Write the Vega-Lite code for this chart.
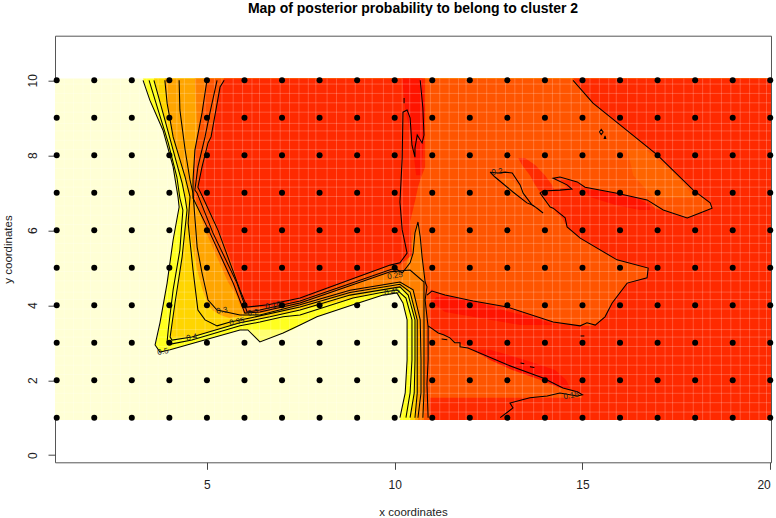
{"$schema":"https://vega.github.io/schema/vega-lite/v6.json","width":716,"height":426.6,"autosize":{"type":"none"},"padding":{"left":55,"top":35.7,"right":5,"bottom":55},"background":"white",
"title":{"text":"Map of posterior probability to belong to cluster  2","font":"Liberation Sans","fontWeight":"bold","fontSize":14,"color":"#000","anchor":"middle","offset":20},
"config":{"view":{"stroke":"#555","strokeWidth":1},"font":"Liberation Sans"},
"encoding":{"x":{"field":"x","type":"quantitative","scale":{"domain":[0.955,20.02],"nice":false,"zero":false},"axis":{"values":[5,10,15,20],"title":"x coordinates","grid":false,"domain":false,"tickColor":"#444","tickSize":7,"labelFont":"Liberation Sans","labelFontSize":12,"labelColor":"#222","labelPadding":10,"titleFont":"Liberation Sans","titleFontSize":11.5,"titleFontWeight":"normal","titleColor":"#222","titlePadding":16}},
"y":{"field":"y","type":"quantitative","scale":{"domain":[-0.19,11.19],"nice":false,"zero":false},"axis":{"values":[0,2,4,6,8,10],"title":"y coordinates","grid":false,"domain":false,"tickColor":"#444","tickSize":7,"labelFont":"Liberation Sans","labelFontSize":12,"labelColor":"#222","labelAngle":-90,"labelAlign":"center","labelBaseline":"bottom","labelPadding":9,"titleFont":"Liberation Sans","titleFontSize":11.5,"titleFontWeight":"normal","titleColor":"#222","titlePadding":13}}},
"datasets":{
"fill":[
{"p":"base","c":"pale","y":10.05,"x":0.955,"x2":20.02},{"p":"base","c":"pale","y":0.94,"x":0.955,"x2":20.02},
{"p":"yw","c":"yellow","y":10.05,"x":3.3,"x2":20.02},{"p":"yw","c":"yellow","y":9.47,"x":3.48,"x2":20.02},{"p":"yw","c":"yellow","y":8.67,"x":3.83,"x2":20.02},{"p":"yw","c":"yellow","y":7.69,"x":4.1,"x2":20.02},{"p":"yw","c":"yellow","y":6.89,"x":4.23,"x2":20.02},{"p":"yw","c":"yellow","y":6.62,"x":4.26,"x2":20.02},{"p":"yw","c":"yellow","y":5.74,"x":4.1,"x2":20.02},{"p":"yw","c":"yellow","y":4.59,"x":3.94,"x2":20.02},{"p":"yw","c":"yellow","y":4.33,"x":3.9,"x2":20.02},{"p":"yw","c":"yellow","y":4.33,"x":3.9,"x2":10.06},{"p":"yw","c":"yellow","y":4.27,"x":3.88,"x2":9.69},{"p":"yw","c":"yellow","y":4.01,"x":3.83,"x2":8.89},{"p":"yw","c":"yellow","y":3.69,"x":3.78,"x2":7.93},{"p":"yw","c":"yellow","y":3.47,"x":3.75,"x2":7.48},{"p":"yw","c":"yellow","y":3.34,"x":3.72,"x2":7.27},{"p":"yw","c":"yellow","y":3.34,"x":3.72,"x2":5.88},{"p":"yw","c":"yellow","y":3.07,"x":3.66,"x2":4.95},{"p":"yw","c":"yellow","y":2.94,"x":3.62,"x2":4.47},{"p":"yw","c":"yellow","y":2.81,"x":3.7,"x2":4.02},{"p":"yw","c":"yellow","y":2.75,"x":3.75,"x2":3.75},
{"p":"yd","c":"lemon","y":3.34,"x":6.09,"x2":7.27},{"p":"yd","c":"lemon","y":3.21,"x":6.23,"x2":6.92},{"p":"yd","c":"lemon","y":3.02,"x":6.41,"x2":6.41},
{"p":"yr","c":"yellow","y":4.33,"x":10.06,"x2":20.02},{"p":"yr","c":"yellow","y":4.06,"x":10.22,"x2":20.02},{"p":"yr","c":"yellow","y":3.61,"x":10.33,"x2":20.02},{"p":"yr","c":"yellow","y":2.54,"x":10.33,"x2":20.02},{"p":"yr","c":"yellow","y":1.66,"x":10.28,"x2":20.02},{"p":"yr","c":"yellow","y":0.94,"x":10.14,"x2":20.02},
{"p":"gw","c":"gold","y":10.05,"x":3.59,"x2":20.02},{"p":"gw","c":"gold","y":9.13,"x":3.83,"x2":20.02},{"p":"gw","c":"gold","y":8.14,"x":4.1,"x2":20.02},{"p":"gw","c":"gold","y":7.26,"x":4.34,"x2":20.02},{"p":"gw","c":"gold","y":6.86,"x":4.42,"x2":20.02},{"p":"gw","c":"gold","y":6.54,"x":4.47,"x2":20.02},{"p":"gw","c":"gold","y":5.29,"x":4.34,"x2":20.02},{"p":"gw","c":"gold","y":4.49,"x":4.23,"x2":20.02},{"p":"gw","c":"gold","y":4.49,"x":4.23,"x2":10.14},{"p":"gw","c":"gold","y":4.14,"x":4.18,"x2":8.68},{"p":"gw","c":"gold","y":3.87,"x":4.13,"x2":7.48},{"p":"gw","c":"gold","y":3.69,"x":4.1,"x2":6.68},{"p":"gw","c":"gold","y":3.53,"x":4.07,"x2":5.88},{"p":"gw","c":"gold","y":3.15,"x":4.02,"x2":4.6},{"p":"gw","c":"gold","y":3.11,"x":4.05,"x2":4.05},
{"p":"gr","c":"gold","y":4.49,"x":10.14,"x2":20.02},{"p":"gr","c":"gold","y":4.27,"x":10.36,"x2":20.02},{"p":"gr","c":"gold","y":3.61,"x":10.54,"x2":20.02},{"p":"gr","c":"gold","y":2.54,"x":10.54,"x2":20.02},{"p":"gr","c":"gold","y":1.66,"x":10.52,"x2":20.02},{"p":"gr","c":"gold","y":0.94,"x":10.41,"x2":20.02},
{"p":"ow","c":"orange","y":10.05,"x":3.88,"x2":20.02},{"p":"ow","c":"orange","y":9.39,"x":3.94,"x2":20.02},{"p":"ow","c":"orange","y":8.49,"x":4.1,"x2":20.02},{"p":"ow","c":"orange","y":7.42,"x":4.42,"x2":20.02},{"p":"ow","c":"orange","y":6.89,"x":4.55,"x2":20.02},{"p":"ow","c":"orange","y":6.19,"x":4.5,"x2":20.02},{"p":"ow","c":"orange","y":4.94,"x":4.74,"x2":20.02},{"p":"ow","c":"orange","y":4.46,"x":4.87,"x2":20.02},{"p":"ow","c":"orange","y":4.46,"x":4.87,"x2":9.74},{"p":"ow","c":"orange","y":4.22,"x":4.95,"x2":8.54},{"p":"ow","c":"orange","y":3.95,"x":5.08,"x2":7.48},{"p":"ow","c":"orange","y":3.87,"x":5.14,"x2":7.1},{"p":"ow","c":"orange","y":3.74,"x":5.35,"x2":6.15},{"p":"ow","c":"orange","y":3.66,"x":5.6,"x2":5.6},
{"p":"or","c":"orange","y":4.56,"x":10.14,"x2":20.02},{"p":"or","c":"orange","y":4.35,"x":10.41,"x2":20.02},{"p":"or","c":"orange","y":3.61,"x":10.6,"x2":20.02},{"p":"or","c":"orange","y":2.54,"x":10.6,"x2":20.02},{"p":"or","c":"orange","y":1.66,"x":10.6,"x2":20.02},{"p":"or","c":"orange","y":0.94,"x":10.54,"x2":20.02},
{"p":"dw","c":"amber","y":10.05,"x":4.68,"x2":20.02},{"p":"dw","c":"amber","y":8.67,"x":4.74,"x2":20.02},{"p":"dw","c":"amber","y":7.07,"x":4.63,"x2":20.02},{"p":"dw","c":"amber","y":6.01,"x":4.95,"x2":20.02},{"p":"dw","c":"amber","y":4.62,"x":5.56,"x2":20.02},{"p":"dw","c":"amber","y":4.62,"x":5.56,"x2":10.14},{"p":"dw","c":"amber","y":4.27,"x":5.78,"x2":8.54},{"p":"dw","c":"amber","y":4.01,"x":5.88,"x2":7.48},{"p":"dw","c":"amber","y":3.79,"x":5.96,"x2":6.41},
{"p":"dr","c":"amber","y":4.62,"x":10.14,"x2":20.02},{"p":"dr","c":"amber","y":4.41,"x":10.49,"x2":20.02},{"p":"dr","c":"amber","y":3.61,"x":10.68,"x2":20.02},{"p":"dr","c":"amber","y":2.54,"x":10.7,"x2":20.02},{"p":"dr","c":"amber","y":1.66,"x":10.7,"x2":20.02},{"p":"dr","c":"amber","y":0.94,"x":10.62,"x2":20.02},
{"p":"rw","c":"vermilion","y":10.05,"x":5,"x2":20.02},{"p":"rw","c":"vermilion","y":9.13,"x":4.87,"x2":20.02},{"p":"rw","c":"vermilion","y":8.14,"x":4.68,"x2":20.02},{"p":"rw","c":"vermilion","y":7.34,"x":4.63,"x2":20.02},{"p":"rw","c":"vermilion","y":6.86,"x":4.66,"x2":20.02},{"p":"rw","c":"vermilion","y":5.93,"x":5.08,"x2":20.02},{"p":"rw","c":"vermilion","y":4.94,"x":5.51,"x2":20.02},{"p":"rw","c":"vermilion","y":4.94,"x":5.51,"x2":10.36},{"p":"rw","c":"vermilion","y":4.89,"x":5.53,"x2":9.88},{"p":"rw","c":"vermilion","y":4.54,"x":5.7,"x2":8.81},{"p":"rw","c":"vermilion","y":4.06,"x":5.88,"x2":7.48},{"p":"rw","c":"vermilion","y":3.79,"x":6.01,"x2":6.41},
{"p":"rr","c":"vermilion","y":4.94,"x":10.78,"x2":20.02},{"p":"rr","c":"vermilion","y":3.42,"x":10.84,"x2":20.02},{"p":"rr","c":"vermilion","y":2.54,"x":10.81,"x2":20.02},{"p":"rr","c":"vermilion","y":1.66,"x":10.81,"x2":20.02},{"p":"rr","c":"vermilion","y":0.94,"x":10.78,"x2":20.02},
{"p":"dp","c":"amber","y":6.14,"x":10.57,"x2":10.65},{"p":"dp","c":"amber","y":5.47,"x":10.41,"x2":10.73},{"p":"dp","c":"amber","y":4.94,"x":10.28,"x2":10.78},{"p":"dp","c":"amber","y":4.62,"x":10.14,"x2":10.81},
{"p":"o1","c":"bright","y":7.39,"x":12.81,"x2":13.07},{"p":"o1","c":"bright","y":7.13,"x":12.94,"x2":13.39},{"p":"o1","c":"bright","y":6.94,"x":13.13,"x2":13.52},
{"p":"o2","c":"bright","y":8.14,"x":16.2,"x2":16.7},{"p":"o2","c":"bright","y":7.47,"x":16.35,"x2":17.5},{"p":"o2","c":"bright","y":6.86,"x":16.9,"x2":18},
{"p":"r1","c":"red","y":10.05,"x":5.46,"x2":10.81},{"p":"r1","c":"red","y":9.82,"x":5.35,"x2":10.81},{"p":"r1","c":"red","y":8.49,"x":5.11,"x2":10.81},{"p":"r1","c":"red","y":7.69,"x":4.87,"x2":10.81},{"p":"r1","c":"red","y":7.34,"x":4.78,"x2":10.68},{"p":"r1","c":"red","y":7.15,"x":4.76,"x2":10.62},{"p":"r1","c":"red","y":6.86,"x":4.9,"x2":10.56},{"p":"r1","c":"red","y":6.22,"x":5.22,"x2":10.41},{"p":"r1","c":"red","y":5.34,"x":5.59,"x2":10.46},{"p":"r1","c":"red","y":5.07,"x":5.68,"x2":10.14},{"p":"r1","c":"red","y":5.07,"x":5.68,"x2":9.88},{"p":"r1","c":"red","y":4.67,"x":5.81,"x2":8.81},{"p":"r1","c":"red","y":4.14,"x":5.99,"x2":7.48},{"p":"r1","c":"red","y":3.95,"x":6.07,"x2":6.63},
{"p":"r2","c":"red","y":10.05,"x":14.75,"x2":20.02},{"p":"r2","c":"red","y":9.39,"x":15.28,"x2":20.02},{"p":"r2","c":"red","y":8.81,"x":16,"x2":20.02},{"p":"r2","c":"red","y":8.01,"x":16.99,"x2":20.02},{"p":"r2","c":"red","y":7.07,"x":17.95,"x2":20.02},{"p":"r2","c":"red","y":6.73,"x":18.4,"x2":20.02},{"p":"r2","c":"red","y":6.59,"x":18.45,"x2":20.02},{"p":"r2","c":"red","y":6.46,"x":18.13,"x2":20.02},{"p":"r2","c":"red","y":6.33,"x":17.79,"x2":20.02},
{"p":"r3","c":"red","y":7.39,"x":14.22,"x2":14.4},{"p":"r3","c":"red","y":7.29,"x":14.46,"x2":14.86},{"p":"r3","c":"red","y":7.15,"x":14.59,"x2":15.07},{"p":"r3","c":"red","y":7.07,"x":14.1,"x2":15.5},{"p":"r3","c":"red","y":6.99,"x":13.87,"x2":15.92},{"p":"r3","c":"red","y":6.81,"x":14.04,"x2":16.72},{"p":"r3","c":"red","y":6.59,"x":14.22,"x2":16.93},{"p":"r3","c":"red","y":6.43,"x":14.35,"x2":17.47},{"p":"r3","c":"red","y":6.33,"x":14.46,"x2":17.79},{"p":"r3","c":"red","y":6.33,"x":14.46,"x2":20.02},{"p":"r3","c":"red","y":6.09,"x":14.59,"x2":20.02},{"p":"r3","c":"red","y":5.79,"x":14.94,"x2":20.02},{"p":"r3","c":"red","y":5.21,"x":15.92,"x2":20.02},{"p":"r3","c":"red","y":4.99,"x":16.75,"x2":20.02},{"p":"r3","c":"red","y":4.73,"x":16.72,"x2":20.02},{"p":"r3","c":"red","y":4.59,"x":16.19,"x2":20.02},{"p":"r3","c":"red","y":4.06,"x":15.79,"x2":20.02},{"p":"r3","c":"red","y":3.69,"x":15.6,"x2":20.02},{"p":"r3","c":"red","y":3.47,"x":15.34,"x2":20.02},{"p":"r3","c":"red","y":3.42,"x":15.1,"x2":20.02},
{"p":"r4","c":"red","y":4.41,"x":10.94,"x2":11},{"p":"r4","c":"red","y":4.27,"x":10.94,"x2":11.34},{"p":"r4","c":"red","y":4.11,"x":10.94,"x2":12.09},{"p":"r4","c":"red","y":3.95,"x":10.94,"x2":13},{"p":"r4","c":"red","y":3.55,"x":10.94,"x2":14.22},{"p":"r4","c":"red","y":3.45,"x":10.94,"x2":14.94},{"p":"r4","c":"red","y":3.45,"x":10.94,"x2":20.02},{"p":"r4","c":"red","y":3.39,"x":10.94,"x2":20.02},{"p":"r4","c":"red","y":3.13,"x":11.47,"x2":20.02},{"p":"r4","c":"red","y":2.86,"x":11.95,"x2":20.02},{"p":"r4","c":"red","y":2.41,"x":13,"x2":20.02},{"p":"r4","c":"red","y":2.06,"x":13.95,"x2":20.02},{"p":"r4","c":"red","y":1.79,"x":14.48,"x2":20.02},{"p":"r4","c":"red","y":1.61,"x":14.99,"x2":20.02},{"p":"r4","c":"red","y":1.53,"x":14.99,"x2":20.02},{"p":"r4","c":"red","y":1.53,"x":10.94,"x2":20.02},{"p":"r4","c":"red","y":0.94,"x":10.94,"x2":20.02},
{"p":"r5","c":"red","y":7.93,"x":13.29,"x2":13.47},{"p":"r5","c":"red","y":7.74,"x":13.39,"x2":13.74},{"p":"r5","c":"red","y":7.47,"x":13.6,"x2":14},{"p":"r5","c":"red","y":7.21,"x":13.74,"x2":14.19},{"p":"r5","c":"red","y":7.02,"x":13.87,"x2":14.27},
{"p":"d1","c":"deep","y":10.05,"x":10.2,"x2":10.73},{"p":"d1","c":"deep","y":9.21,"x":10.28,"x2":10.81},{"p":"d1","c":"deep","y":8.41,"x":10.46,"x2":10.78},{"p":"d1","c":"deep","y":7.47,"x":10.57,"x2":10.7},
{"p":"d2","c":"deep","y":4.22,"x":11.1,"x2":11.47},{"p":"d2","c":"deep","y":4.06,"x":11.02,"x2":12.27},{"p":"d2","c":"deep","y":3.82,"x":11.34,"x2":13.07},{"p":"d2","c":"deep","y":3.66,"x":12.27,"x2":13.74},{"p":"d2","c":"deep","y":3.47,"x":13.34,"x2":14.27},
{"p":"d3","c":"deep","y":2.81,"x":12.06,"x2":12.54},{"p":"d3","c":"deep","y":2.54,"x":12.54,"x2":13.47},{"p":"d3","c":"deep","y":2.27,"x":13.13,"x2":14.27},{"p":"d3","c":"deep","y":2.01,"x":13.87,"x2":14.56},{"p":"d3","c":"deep","y":1.79,"x":14.4,"x2":14.67},
{"p":"d4","c":"deep","y":7.07,"x":15.07,"x2":15.47},{"p":"d4","c":"deep","y":6.89,"x":15.2,"x2":16.4},{"p":"d4","c":"deep","y":6.67,"x":15.9,"x2":16.8},{"p":"d4","c":"deep","y":6.54,"x":16.53,"x2":16.8}
],
"gridx":[{"x":1.2,"y":0.94,"y2":10.05},{"x":1.45,"y":0.94,"y2":10.05},{"x":1.7,"y":0.94,"y2":10.05},{"x":1.9,"y":0.94,"y2":10.05},{"x":2.2,"y":0.94,"y2":10.05},{"x":2.45,"y":0.94,"y2":10.05},{"x":2.7,"y":0.94,"y2":10.05},{"x":2.95,"y":0.94,"y2":10.05},{"x":3.2,"y":0.94,"y2":10.05},{"x":3.4,"y":0.94,"y2":10.05},{"x":3.7,"y":0.94,"y2":10.05},{"x":3.95,"y":0.94,"y2":10.05},{"x":4.2,"y":0.94,"y2":10.05},{"x":4.4,"y":0.94,"y2":10.05},{"x":4.7,"y":0.94,"y2":10.05},{"x":4.95,"y":0.94,"y2":10.05},{"x":5.2,"y":0.94,"y2":10.05},{"x":5.4,"y":0.94,"y2":10.05},{"x":5.7,"y":0.94,"y2":10.05},{"x":5.95,"y":0.94,"y2":10.05},{"x":6.2,"y":0.94,"y2":10.05},{"x":6.4,"y":0.94,"y2":10.05},{"x":6.7,"y":0.94,"y2":10.05},{"x":6.95,"y":0.94,"y2":10.05},{"x":7.2,"y":0.94,"y2":10.05},{"x":7.45,"y":0.94,"y2":10.05},{"x":7.7,"y":0.94,"y2":10.05},{"x":7.9,"y":0.94,"y2":10.05},{"x":8.2,"y":0.94,"y2":10.05},{"x":8.45,"y":0.94,"y2":10.05},{"x":8.7,"y":0.94,"y2":10.05},{"x":8.95,"y":0.94,"y2":10.05},{"x":9.2,"y":0.94,"y2":10.05},{"x":9.4,"y":0.94,"y2":10.05},{"x":9.7,"y":0.94,"y2":10.05},{"x":9.95,"y":0.94,"y2":10.05},{"x":10.2,"y":0.94,"y2":10.05},{"x":10.4,"y":0.94,"y2":10.05},{"x":10.7,"y":0.94,"y2":10.05},{"x":10.95,"y":0.94,"y2":10.05},{"x":11.2,"y":0.94,"y2":10.05},{"x":11.45,"y":0.94,"y2":10.05},{"x":11.7,"y":0.94,"y2":10.05},{"x":11.9,"y":0.94,"y2":10.05},{"x":12.2,"y":0.94,"y2":10.05},{"x":12.45,"y":0.94,"y2":10.05},{"x":12.7,"y":0.94,"y2":10.05},{"x":12.95,"y":0.94,"y2":10.05},{"x":13.2,"y":0.94,"y2":10.05},{"x":13.4,"y":0.94,"y2":10.05},{"x":13.7,"y":0.94,"y2":10.05},{"x":13.95,"y":0.94,"y2":10.05},{"x":14.2,"y":0.94,"y2":10.05},{"x":14.4,"y":0.94,"y2":10.05},{"x":14.7,"y":0.94,"y2":10.05},{"x":14.95,"y":0.94,"y2":10.05},{"x":15.2,"y":0.94,"y2":10.05},{"x":15.45,"y":0.94,"y2":10.05},{"x":15.7,"y":0.94,"y2":10.05},{"x":15.9,"y":0.94,"y2":10.05},{"x":16.2,"y":0.94,"y2":10.05},{"x":16.45,"y":0.94,"y2":10.05},{"x":16.7,"y":0.94,"y2":10.05},{"x":16.95,"y":0.94,"y2":10.05},{"x":17.2,"y":0.94,"y2":10.05},{"x":17.4,"y":0.94,"y2":10.05},{"x":17.7,"y":0.94,"y2":10.05},{"x":17.95,"y":0.94,"y2":10.05},{"x":18.2,"y":0.94,"y2":10.05},{"x":18.4,"y":0.94,"y2":10.05},{"x":18.7,"y":0.94,"y2":10.05},{"x":18.95,"y":0.94,"y2":10.05},{"x":19.2,"y":0.94,"y2":10.05},{"x":19.45,"y":0.94,"y2":10.05},{"x":19.7,"y":0.94,"y2":10.05},{"x":19.9,"y":0.94,"y2":10.05}],
"gridy":[{"y":1.15,"x":0.955,"x2":20.02},{"y":1.4,"x":0.955,"x2":20.02},{"y":1.65,"x":0.955,"x2":20.02},{"y":1.85,"x":0.955,"x2":20.02},{"y":2.15,"x":0.955,"x2":20.02},{"y":2.4,"x":0.955,"x2":20.02},{"y":2.65,"x":0.955,"x2":20.02},{"y":2.9,"x":0.955,"x2":20.02},{"y":3.15,"x":0.955,"x2":20.02},{"y":3.35,"x":0.955,"x2":20.02},{"y":3.65,"x":0.955,"x2":20.02},{"y":3.9,"x":0.955,"x2":20.02},{"y":4.15,"x":0.955,"x2":20.02},{"y":4.35,"x":0.955,"x2":20.02},{"y":4.65,"x":0.955,"x2":20.02},{"y":4.9,"x":0.955,"x2":20.02},{"y":5.15,"x":0.955,"x2":20.02},{"y":5.4,"x":0.955,"x2":20.02},{"y":5.65,"x":0.955,"x2":20.02},{"y":5.85,"x":0.955,"x2":20.02},{"y":6.15,"x":0.955,"x2":20.02},{"y":6.4,"x":0.955,"x2":20.02},{"y":6.65,"x":0.955,"x2":20.02},{"y":6.9,"x":0.955,"x2":20.02},{"y":7.15,"x":0.955,"x2":20.02},{"y":7.35,"x":0.955,"x2":20.02},{"y":7.65,"x":0.955,"x2":20.02},{"y":7.9,"x":0.955,"x2":20.02},{"y":8.15,"x":0.955,"x2":20.02},{"y":8.4,"x":0.955,"x2":20.02},{"y":8.65,"x":0.955,"x2":20.02},{"y":8.85,"x":0.955,"x2":20.02},{"y":9.15,"x":0.955,"x2":20.02},{"y":9.4,"x":0.955,"x2":20.02},{"y":9.65,"x":0.955,"x2":20.02},{"y":9.9,"x":0.955,"x2":20.02}],
"lines":[
{"k":"0.5","x":3.3,"y":10},{"k":"0.5","x":3.48,"y":9.47},{"k":"0.5","x":3.83,"y":8.67},{"k":"0.5","x":4.1,"y":7.69},{"k":"0.5","x":4.23,"y":6.89},{"k":"0.5","x":4.26,"y":6.62},{"k":"0.5","x":4.1,"y":5.74},{"k":"0.5","x":3.94,"y":4.59},{"k":"0.5","x":3.75,"y":3.53},{"k":"0.5","x":3.62,"y":2.94},{"k":"0.5","x":3.75,"y":2.75},{"k":"0.5","x":4.02,"y":2.81},{"k":"0.5","x":5.88,"y":3.34},{"k":"0.5","x":6.09,"y":3.34},{"k":"0.5","x":6.41,"y":3.02},{"k":"0.5","x":7.03,"y":3.26},{"k":"0.5","x":7.48,"y":3.47},{"k":"0.5","x":7.93,"y":3.69},{"k":"0.5","x":8.89,"y":4.01},{"k":"0.5","x":9.69,"y":4.27},{"k":"0.5","x":10.06,"y":4.33},{"k":"0.5","x":10.22,"y":4.06},{"k":"0.5","x":10.33,"y":3.61},{"k":"0.5","x":10.33,"y":2.54},{"k":"0.5","x":10.28,"y":1.66},{"k":"0.5","x":10.14,"y":1},
{"k":"0.45","x":3.46,"y":10},{"k":"0.45","x":3.7,"y":9.21},{"k":"0.45","x":3.97,"y":8.33},{"k":"0.45","x":4.2,"y":7.42},{"k":"0.45","x":4.28,"y":6.86},{"k":"0.45","x":4.36,"y":6.54},{"k":"0.45","x":4.28,"y":5.47},{"k":"0.45","x":4.1,"y":4.41},{"k":"0.45","x":3.97,"y":3.34},{"k":"0.45","x":3.94,"y":3.02},{"k":"0.45","x":4.07,"y":2.97},{"k":"0.45","x":4.6,"y":3.07},{"k":"0.45","x":5.88,"y":3.45},{"k":"0.45","x":6.41,"y":3.55},{"k":"0.45","x":7.03,"y":3.69},{"k":"0.45","x":7.48,"y":3.74},{"k":"0.45","x":8.89,"y":4.19},{"k":"0.45","x":9.61,"y":4.33},{"k":"0.45","x":10.06,"y":4.41},{"k":"0.45","x":10.3,"y":4.19},{"k":"0.45","x":10.46,"y":3.61},{"k":"0.45","x":10.46,"y":2.54},{"k":"0.45","x":10.41,"y":1.66},{"k":"0.45","x":10.3,"y":1},
{"k":"0.4","x":3.59,"y":10},{"k":"0.4","x":3.83,"y":9.13},{"k":"0.4","x":4.1,"y":8.14},{"k":"0.4","x":4.34,"y":7.26},{"k":"0.4","x":4.42,"y":6.86},{"k":"0.4","x":4.47,"y":6.54},{"k":"0.4","x":4.34,"y":5.29},{"k":"0.4","x":4.15,"y":4.06},{"k":"0.4","x":4.02,"y":3.15},{"k":"0.4","x":4.07,"y":3.07},{"k":"0.4","x":4.6,"y":3.15},{"k":"0.4","x":5.88,"y":3.53},{"k":"0.4","x":6.68,"y":3.69},{"k":"0.4","x":7.48,"y":3.87},{"k":"0.4","x":8.81,"y":4.27},{"k":"0.4","x":10.14,"y":4.49},{"k":"0.4","x":10.36,"y":4.27},{"k":"0.4","x":10.54,"y":3.61},{"k":"0.4","x":10.54,"y":2.54},{"k":"0.4","x":10.52,"y":1.66},{"k":"0.4","x":10.41,"y":1},
{"k":"0.35","x":3.88,"y":10},{"k":"0.35","x":3.94,"y":9.39},{"k":"0.35","x":4.1,"y":8.49},{"k":"0.35","x":4.42,"y":7.42},{"k":"0.35","x":4.55,"y":6.89},{"k":"0.35","x":4.5,"y":6.19},{"k":"0.35","x":4.63,"y":4.94},{"k":"0.35","x":4.76,"y":3.87},{"k":"0.35","x":4.95,"y":3.61},{"k":"0.35","x":5.27,"y":3.45},{"k":"0.35","x":5.62,"y":3.55},{"k":"0.35","x":6.15,"y":3.66},{"k":"0.35","x":7.48,"y":3.95},{"k":"0.35","x":8.81,"y":4.34},{"k":"0.35","x":10.14,"y":4.56},{"k":"0.35","x":10.41,"y":4.35},{"k":"0.35","x":10.6,"y":3.61},{"k":"0.35","x":10.6,"y":2.54},{"k":"0.35","x":10.6,"y":1.66},{"k":"0.35","x":10.54,"y":1},
{"k":"0.3","x":4.26,"y":10},{"k":"0.3","x":4.28,"y":9.21},{"k":"0.3","x":4.42,"y":8.14},{"k":"0.3","x":4.55,"y":7.34},{"k":"0.3","x":4.63,"y":6.99},{"k":"0.3","x":4.74,"y":5.55},{"k":"0.3","x":4.87,"y":4.86},{"k":"0.3","x":5.03,"y":4.14},{"k":"0.3","x":5.27,"y":3.87},{"k":"0.3","x":5.88,"y":3.74},{"k":"0.3","x":6.41,"y":3.74},{"k":"0.3","x":7.48,"y":4.01},{"k":"0.3","x":8.81,"y":4.4},{"k":"0.3","x":10.14,"y":4.62},{"k":"0.3","x":10.49,"y":4.41},{"k":"0.3","x":10.68,"y":3.61},{"k":"0.3","x":10.7,"y":2.54},{"k":"0.3","x":10.7,"y":1.66},{"k":"0.3","x":10.62,"y":1},
{"k":"0.25","x":5,"y":10},{"k":"0.25","x":4.87,"y":9.13},{"k":"0.25","x":4.68,"y":8.14},{"k":"0.25","x":4.63,"y":7.34},{"k":"0.25","x":4.63,"y":6.86},{"k":"0.25","x":5.08,"y":5.93},{"k":"0.25","x":5.7,"y":4.59},{"k":"0.25","x":6.01,"y":3.79},{"k":"0.25","x":6.41,"y":3.82},{"k":"0.25","x":7.48,"y":4.06},{"k":"0.25","x":9.88,"y":4.89},{"k":"0.25","x":10.41,"y":4.94},{"k":"0.25","x":10.78,"y":4.62},{"k":"0.25","x":10.78,"y":3.61},{"k":"0.25","x":10.78,"y":2.54},{"k":"0.25","x":10.78,"y":1.66},{"k":"0.25","x":10.75,"y":1},
{"k":"0.2","x":5.27,"y":10},{"k":"0.2","x":5.08,"y":9.13},{"k":"0.2","x":4.95,"y":8.49},{"k":"0.2","x":4.76,"y":7.69},{"k":"0.2","x":4.68,"y":7.07},{"k":"0.2","x":4.74,"y":6.99},{"k":"0.2","x":5.16,"y":5.93},{"k":"0.2","x":5.8,"y":4.59},{"k":"0.2","x":6.07,"y":3.82},{"k":"0.2","x":6.41,"y":3.87},{"k":"0.2","x":7.48,"y":4.11},{"k":"0.2","x":10.01,"y":4.99},{"k":"0.2","x":10.2,"y":4.86},{"k":"0.2","x":10.41,"y":5.13},{"k":"0.2","x":10.49,"y":5.39},{"k":"0.2","x":10.54,"y":5.93},{"k":"0.2","x":10.62,"y":6.22},{"k":"0.2","x":10.68,"y":5.82},{"k":"0.2","x":10.73,"y":5.29},{"k":"0.2","x":10.81,"y":4.62},{"k":"0.2","x":10.86,"y":4.49},{"k":"0.2","x":10.81,"y":4.14},{"k":"0.2","x":10.89,"y":3.42},{"k":"0.2","x":10.89,"y":2.54},{"k":"0.2","x":10.86,"y":1.9},{"k":"0.2","x":10.89,"y":1},
{"k":"0.15","x":5.46,"y":10},{"k":"0.15","x":5.35,"y":9.82},{"k":"0.15","x":5.11,"y":8.49},{"k":"0.15","x":5.03,"y":8.33},{"k":"0.15","x":4.87,"y":7.69},{"k":"0.15","x":4.76,"y":7.15},{"k":"0.15","x":4.9,"y":6.86},{"k":"0.15","x":5.3,"y":5.99},{"k":"0.15","x":5.88,"y":4.41},{"k":"0.15","x":6.07,"y":3.95},{"k":"0.15","x":6.63,"y":4.01},{"k":"0.15","x":7.48,"y":4.19},{"k":"0.15","x":9.88,"y":5.07},{"k":"0.15","x":10.14,"y":5.13},{"k":"0.15","x":10.33,"y":5.39},{"k":"0.15","x":10.2,"y":6.01},{"k":"0.15","x":10.14,"y":6.75},{"k":"0.15","x":10.2,"y":7.93},{"k":"0.15","x":10.22,"y":9.15},{"k":"0.15","x":10.33,"y":9.21},{"k":"0.15","x":10.41,"y":9},{"k":"0.15","x":10.46,"y":8.27},{"k":"0.15","x":10.54,"y":7.95},{"k":"0.15","x":10.54,"y":8.19},{"k":"0.15","x":10.6,"y":8.54},{"k":"0.15","x":10.73,"y":8.33},{"k":"0.15","x":10.78,"y":8.54},{"k":"0.15","x":10.75,"y":9.26},{"k":"0.15","x":10.68,"y":10},
{"k":"s0","x":10.25,"y":9.53},{"k":"s0","x":10.25,"y":9.39},
{"k":"m","x":14.75,"y":10},{"k":"m","x":15.28,"y":9.39},{"k":"m","x":16,"y":8.81},{"k":"m","x":16.99,"y":8.01},{"k":"m","x":17.95,"y":7.07},{"k":"m","x":18.4,"y":6.73},{"k":"m","x":18.45,"y":6.59},{"k":"m","x":18.13,"y":6.46},{"k":"m","x":17.79,"y":6.33},{"k":"m","x":17.15,"y":6.54},{"k":"m","x":16.72,"y":6.81},{"k":"m","x":15.92,"y":6.99},{"k":"m","x":15.07,"y":7.15},{"k":"m","x":14.86,"y":7.29},{"k":"m","x":14.4,"y":7.42},{"k":"m","x":14.22,"y":7.39},{"k":"m","x":14.59,"y":7.21},{"k":"m","x":14.72,"y":7.1},{"k":"m","x":14.4,"y":7.07},{"k":"m","x":13.95,"y":7.05},{"k":"m","x":13.87,"y":6.99},{"k":"m","x":14.14,"y":6.62},{"k":"m","x":14.22,"y":6.59},{"k":"m","x":14.54,"y":6.33},{"k":"m","x":14.59,"y":6.09},{"k":"m","x":14.94,"y":5.79},{"k":"m","x":15.92,"y":5.21},{"k":"m","x":16.75,"y":4.99},{"k":"m","x":16.72,"y":4.73},{"k":"m","x":16.19,"y":4.59},{"k":"m","x":15.79,"y":4.06},{"k":"m","x":15.6,"y":3.69},{"k":"m","x":15.34,"y":3.47},{"k":"m","x":15.12,"y":3.53},{"k":"m","x":14.94,"y":3.45},{"k":"m","x":14.22,"y":3.55},{"k":"m","x":13,"y":3.95},{"k":"m","x":12.09,"y":4.11},{"k":"m","x":11.34,"y":4.27},{"k":"m","x":10.99,"y":4.38},{"k":"m","x":10.86,"y":4.27},
{"k":"i","x":12.54,"y":7.55},{"k":"i","x":12.67,"y":7.42},{"k":"i","x":13.15,"y":7.02},{"k":"i","x":13.52,"y":6.73},{"k":"i","x":13.68,"y":6.67},{"k":"i","x":13.95,"y":6.46},{"k":"i","x":13.79,"y":6.59},{"k":"i","x":13.66,"y":6.67},{"k":"i","x":13.42,"y":6.99},{"k":"i","x":13.34,"y":7.21},{"k":"i","x":13.13,"y":7.53},{"k":"i","x":12.94,"y":7.55},{"k":"i","x":12.75,"y":7.53},{"k":"i","x":12.54,"y":7.55},
{"k":"l","x":10.89,"y":3.45},{"k":"l","x":11.16,"y":3.26},{"k":"l","x":11.3,"y":3.21},{"k":"l","x":11.47,"y":3.13},{"k":"l","x":11.6,"y":3},{"k":"l","x":11.74,"y":3},{"k":"l","x":11.74,"y":2.89},{"k":"l","x":11.95,"y":2.86},{"k":"l","x":13,"y":2.41},{"k":"l","x":13.95,"y":2.06},{"k":"l","x":14.48,"y":1.79},{"k":"l","x":14.86,"y":1.69},{"k":"l","x":15,"y":1.61},{"k":"l","x":14.86,"y":1.58},{"k":"l","x":14.4,"y":1.66},{"k":"l","x":14.06,"y":1.58},{"k":"l","x":13.6,"y":1.53},{"k":"l","x":13.07,"y":1.39},{"k":"l","x":13.15,"y":1.26},{"k":"l","x":12.81,"y":1},
{"k":"d","x":15.45,"y":8.62},{"k":"d","x":15.5,"y":8.69},{"k":"d","x":15.55,"y":8.62},{"k":"d","x":15.5,"y":8.55},{"k":"d","x":15.45,"y":8.62},
{"k":"e","x":15.6,"y":8.52},{"k":"e","x":15.62,"y":8.45},{"k":"e","x":15.58,"y":8.45},{"k":"e","x":15.6,"y":8.52},
{"k":"f","x":14.95,"y":3.18},{"k":"f","x":15.05,"y":3.18},
{"k":"g","x":13.35,"y":2.46},{"k":"g","x":13.45,"y":2.44},
{"k":"h","x":13.6,"y":2.36},{"k":"h","x":13.72,"y":2.34},
{"k":"j","x":11.25,"y":3.1},{"k":"j","x":11.4,"y":3.08}
],
"labels":[{"x":3.83,"y":2.75,"t":"0.5"},{"x":4.6,"y":3.13,"t":"0.4"},{"x":5.8,"y":3.55,"t":"0.35"},{"x":5.4,"y":3.85,"t":"0.3"},{"x":6.23,"y":3.79,"t":"0.2"},{"x":6.76,"y":3.98,"t":"0.15"},{"x":10.01,"y":4.78,"t":"0.25"},{"x":9.93,"y":4.35,"t":"0.45"},{"x":12.73,"y":7.55,"t":"0.2"},{"x":14.7,"y":1.58,"t":"0.15"}],
"pts":[
{"x":1,"y":1},{"x":2,"y":1},{"x":3,"y":1},{"x":4,"y":1},{"x":5,"y":1},{"x":6,"y":1},{"x":7,"y":1},{"x":8,"y":1},{"x":9,"y":1},{"x":10,"y":1},{"x":11,"y":1},{"x":12,"y":1},{"x":13,"y":1},{"x":14,"y":1},{"x":15,"y":1},{"x":16,"y":1},{"x":17,"y":1},{"x":18,"y":1},{"x":19,"y":1},{"x":20,"y":1},
{"x":1,"y":2},{"x":2,"y":2},{"x":3,"y":2},{"x":4,"y":2},{"x":5,"y":2},{"x":6,"y":2},{"x":7,"y":2},{"x":8,"y":2},{"x":9,"y":2},{"x":10,"y":2},{"x":11,"y":2},{"x":12,"y":2},{"x":13,"y":2},{"x":14,"y":2},{"x":15,"y":2},{"x":16,"y":2},{"x":17,"y":2},{"x":18,"y":2},{"x":19,"y":2},{"x":20,"y":2},
{"x":1,"y":3},{"x":2,"y":3},{"x":3,"y":3},{"x":4,"y":3},{"x":5,"y":3},{"x":6,"y":3},{"x":7,"y":3},{"x":8,"y":3},{"x":9,"y":3},{"x":10,"y":3},{"x":11,"y":3},{"x":12,"y":3},{"x":13,"y":3},{"x":14,"y":3},{"x":15,"y":3},{"x":16,"y":3},{"x":17,"y":3},{"x":18,"y":3},{"x":19,"y":3},{"x":20,"y":3},
{"x":1,"y":4},{"x":2,"y":4},{"x":3,"y":4},{"x":4,"y":4},{"x":5,"y":4},{"x":6,"y":4},{"x":7,"y":4},{"x":8,"y":4},{"x":9,"y":4},{"x":10,"y":4},{"x":11,"y":4},{"x":12,"y":4},{"x":13,"y":4},{"x":14,"y":4},{"x":15,"y":4},{"x":16,"y":4},{"x":17,"y":4},{"x":18,"y":4},{"x":19,"y":4},{"x":20,"y":4},
{"x":1,"y":5},{"x":2,"y":5},{"x":3,"y":5},{"x":4,"y":5},{"x":5,"y":5},{"x":6,"y":5},{"x":7,"y":5},{"x":8,"y":5},{"x":9,"y":5},{"x":10,"y":5},{"x":11,"y":5},{"x":12,"y":5},{"x":13,"y":5},{"x":14,"y":5},{"x":15,"y":5},{"x":16,"y":5},{"x":17,"y":5},{"x":18,"y":5},{"x":19,"y":5},{"x":20,"y":5},
{"x":1,"y":6},{"x":2,"y":6},{"x":3,"y":6},{"x":4,"y":6},{"x":5,"y":6},{"x":6,"y":6},{"x":7,"y":6},{"x":8,"y":6},{"x":9,"y":6},{"x":10,"y":6},{"x":11,"y":6},{"x":12,"y":6},{"x":13,"y":6},{"x":14,"y":6},{"x":15,"y":6},{"x":16,"y":6},{"x":17,"y":6},{"x":18,"y":6},{"x":19,"y":6},{"x":20,"y":6},
{"x":1,"y":7},{"x":2,"y":7},{"x":3,"y":7},{"x":4,"y":7},{"x":5,"y":7},{"x":6,"y":7},{"x":7,"y":7},{"x":8,"y":7},{"x":9,"y":7},{"x":10,"y":7},{"x":11,"y":7},{"x":12,"y":7},{"x":13,"y":7},{"x":14,"y":7},{"x":15,"y":7},{"x":16,"y":7},{"x":17,"y":7},{"x":18,"y":7},{"x":19,"y":7},{"x":20,"y":7},
{"x":1,"y":8},{"x":2,"y":8},{"x":3,"y":8},{"x":4,"y":8},{"x":5,"y":8},{"x":6,"y":8},{"x":7,"y":8},{"x":8,"y":8},{"x":9,"y":8},{"x":10,"y":8},{"x":11,"y":8},{"x":12,"y":8},{"x":13,"y":8},{"x":14,"y":8},{"x":15,"y":8},{"x":16,"y":8},{"x":17,"y":8},{"x":18,"y":8},{"x":19,"y":8},{"x":20,"y":8},
{"x":1,"y":9},{"x":2,"y":9},{"x":3,"y":9},{"x":4,"y":9},{"x":5,"y":9},{"x":6,"y":9},{"x":7,"y":9},{"x":8,"y":9},{"x":9,"y":9},{"x":10,"y":9},{"x":11,"y":9},{"x":12,"y":9},{"x":13,"y":9},{"x":14,"y":9},{"x":15,"y":9},{"x":16,"y":9},{"x":17,"y":9},{"x":18,"y":9},{"x":19,"y":9},{"x":20,"y":9},
{"x":1,"y":10},{"x":2,"y":10},{"x":3,"y":10},{"x":4,"y":10},{"x":5,"y":10},{"x":6,"y":10},{"x":7,"y":10},{"x":8,"y":10},{"x":9,"y":10},{"x":10,"y":10},{"x":11,"y":10},{"x":12,"y":10},{"x":13,"y":10},{"x":14,"y":10},{"x":15,"y":10},{"x":16,"y":10},{"x":17,"y":10},{"x":18,"y":10},{"x":19,"y":10},{"x":20,"y":10}
]},
"layer":[
{"data":{"name":"fill"},"mark":{"type":"area","orient":"horizontal","interpolate":"linear"},"encoding":{"x2":{"field":"x2"},"order":{"value":null},"detail":{"field":"p"},"color":{"field":"c","type":"nominal","legend":null,"scale":{"domain":["pale","lemon","yellow","gold","orange","amber","bright","vermilion","red","deep"],"range":["#FFFFD5","#FFFF70","#FFFF20","#FFD500","#FFA500","#FF8000","#FF6400","#FF5500","#FF2A00","#FF1400"]}}}},
{"data":{"name":"gridx"},"mark":{"type":"rule","color":"white","opacity":0.22,"strokeWidth":1},"encoding":{"y2":{"field":"y2"}}},
{"data":{"name":"gridy"},"mark":{"type":"rule","color":"white","opacity":0.22,"strokeWidth":1},"encoding":{"x2":{"field":"x2"}}},
{"data":{"name":"lines"},"mark":{"type":"line","color":"#000","strokeWidth":1.05,"interpolate":"linear"},"encoding":{"order":{"value":null},"detail":{"field":"k"}}},
{"data":{"name":"labels"},"mark":{"type":"text","font":"Liberation Sans","fontSize":8,"color":"#222","angle":350},"encoding":{"text":{"field":"t"}}},
{"data":{"name":"pts"},"mark":{"type":"point","filled":true,"shape":"circle","size":36,"color":"#000","opacity":1}}
]}
